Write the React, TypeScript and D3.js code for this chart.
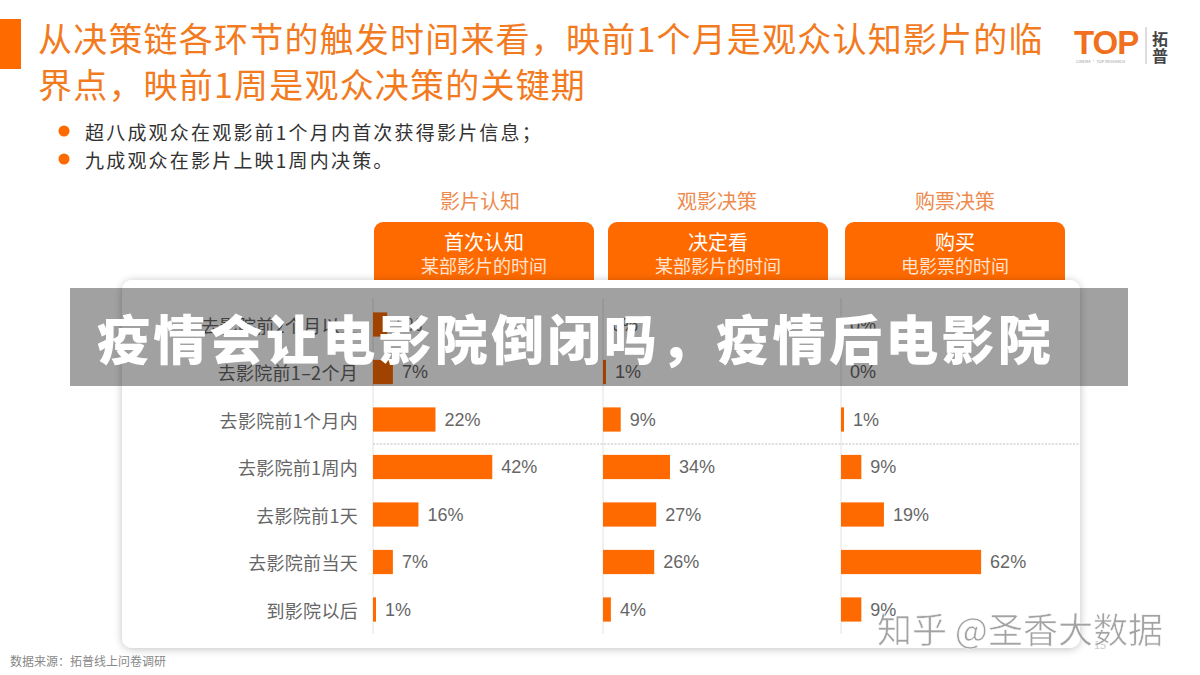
import React from "react";
import * as d3 from "d3";

const categories = ["去影院前2个月以上", "去影院前1–2个月", "去影院前1个月内", "去影院前1周内", "去影院前1天", "去影院前当天", "到影院以后"];
const awareness = [5, 7, 22, 42, 16, 7, 1];
const decision = [0, 1, 9, 34, 27, 26, 4];
const purchase = [0, 0, 1, 9, 19, 62, 9];
const stageTitles = ["影片认知", "观影决策", "购票决策"];
const boxTitles = ["首次认知", "决定看", "购买"];
const boxSubs = ["某部影片的时间", "某部影片的时间", "电影票的时间"];
const titleLines = ["从决策链各环节的触发时间来看，映前1个月是观众认知影片的临", "界点，映前1周是观众决策的关键期"];
const bullets = ["超八成观众在观影前1个月内首次获得影片信息；", "九成观众在影片上映1周内决策。"];
const overlayText = "疫情会让电影院倒闭吗，疫情后电影院";
const sourceText = "数据来源：拓普线上问卷调研";
const watermark = "知乎 @圣香大数据";

const FONT = "'Noto Sans CJK SC', 'Noto Sans', sans-serif";
const ORANGE = "#ff6a00";

export default function App() {
  const series = [awareness, decision, purchase];
  const axisX = [373, 603, 841];
  const pxPer100 = [284, 197, 226];
  const boxX = [374, 608, 845];
  const boxW = 220;
  const headerCx = [480, 717, 955];

  const y = d3
    .scaleBand<string>()
    .domain(categories)
    .range([300.75, 633.25])
    .paddingInner(0.49)
    .paddingOuter(0.245);

  const xScales = axisX.map((x0, i) => d3.scaleLinear().domain([0, 100]).range([x0, x0 + pxPer100[i]]));

  return (
    <div style={{ position: "fixed", left: 0, top: 0 }}>
      <svg width={1200} height={675} style={{ display: "block", background: "#fff" }} fontFamily={FONT}>
        <defs>
          <filter id="cardShadow" x="-5%" y="-5%" width="110%" height="115%">
            <feGaussianBlur in="SourceAlpha" stdDeviation="4" />
            <feOffset dx="0" dy="1" result="b" />
            <feComponentTransfer>
              <feFuncA type="linear" slope="0.25" />
            </feComponentTransfer>
            <feMerge>
              <feMergeNode />
              <feMergeNode in="SourceGraphic" />
            </feMerge>
          </filter>
        </defs>

        {/* title */}
        <rect x={0} y={19} width={21} height={50} fill={ORANGE} />
        {titleLines.map((t, i) => (
          <text key={i} x={38} y={37 + i * 46} fontSize={34} letterSpacing={1.2} fill="#f27b1f" dominantBaseline="central">
            {t}
          </text>
        ))}

        {/* logo */}
        <text x={1074} y={54} fontSize={33} fontWeight={900} fill="#f07020" fontFamily="'Liberation Sans', sans-serif" letterSpacing={-1}>
          TOP
        </text>
        <text x={1076} y={63} fontSize={4} fill="#999">CINEMA · TOP RESEARCH</text>
        <line x1={1146} x2={1146} y1={27} y2={64} stroke="#bbb" strokeWidth={1} />
        <text x={1160} y={38} fontSize={16} fontWeight={700} fill="#444" textAnchor="middle" dominantBaseline="central">拓</text>
        <text x={1160} y={55} fontSize={16} fontWeight={700} fill="#444" textAnchor="middle" dominantBaseline="central">普</text>

        {/* bullets */}
        {bullets.map((b, i) => (
          <g key={i}>
            <circle cx={64} cy={131 + i * 28} r={5.5} fill={ORANGE} />
            <text x={85} y={131 + i * 28} fontSize={19} letterSpacing={2.2} fill="#333" dominantBaseline="central">
              {b}
            </text>
          </g>
        ))}

        {/* stage headers and boxes */}
        {stageTitles.map((s, i) => (
          <g key={i}>
            <text x={headerCx[i]} y={200} fontSize={20} fill="#ee8a4e" textAnchor="middle" dominantBaseline="central">
              {s}
            </text>
            <rect x={boxX[i]} y={222} width={boxW} height={70} rx={9} fill={ORANGE} />
            <text x={boxX[i] + boxW / 2} y={241} fontSize={20} fill="#fff" textAnchor="middle" dominantBaseline="central">
              {boxTitles[i]}
            </text>
            <text x={boxX[i] + boxW / 2} y={265} fontSize={18} fill="#ffe2cf" textAnchor="middle" dominantBaseline="central">
              {boxSubs[i]}
            </text>
          </g>
        ))}

        {/* card */}
        <rect x={122} y={280} width={958} height={368} rx={10} fill="#fff" filter="url(#cardShadow)" />

        {/* axes */}
        {axisX.map((x, i) => (
          <line key={i} x1={x} x2={x} y1={298} y2={634} stroke="#e2e2e2" strokeWidth={1} />
        ))}
        <line x1={373} x2={1080} y1={444} y2={444} stroke="#bdbdbd" strokeWidth={1} strokeDasharray="2,1.5" />

        {/* category labels */}
        {categories.map((c) => (
          <text key={c} x={358} y={(y(c) as number) + y.bandwidth() / 2} fontSize={18} letterSpacing={0.3} fill="#666" textAnchor="end" dominantBaseline="central">
            {c}
          </text>
        ))}

        {/* bars */}
        {series.map((vals, si) => (
          <g key={si}>
            {vals.map((v, ri) => {
              const c = categories[ri];
              const x0 = xScales[si](0);
              const x1 = xScales[si](v);
              const w = x1 - x0;
              const drawnW = v > 0 ? Math.max(w, 3) : 0;
              const yc = (y(c) as number) + y.bandwidth() / 2;
              return (
                <g key={ri}>
                  {v > 0 && <rect x={x0} y={y(c) as number} width={drawnW} height={y.bandwidth()} fill={ORANGE} />}
                  <text x={x0 + drawnW + 9} y={yc} fontSize={18} fill="#666" dominantBaseline="central" fontFamily="'Liberation Sans', sans-serif">
                    {v}%
                  </text>
                </g>
              );
            })}
          </g>
        ))}

        {/* overlay band */}
        <rect x={70} y={288} width={1058} height={98} fill="#000" opacity={0.37} />
        <text x={97} y={337} fontSize={53} fontWeight={900} fill="#fff" letterSpacing={3.3} dominantBaseline="central">
          {overlayText}
        </text>

        {/* footer */}
        <text x={10} y={660} fontSize={12} fill="#888" dominantBaseline="central">
          {sourceText}
        </text>
        <text x={1094} y={644} fontSize={11} fill="#ccc" dominantBaseline="central">15</text>
        <text x={877} y={627} fontSize={35} fill="#9a9a9a" stroke="#fff" strokeWidth={0.6} dominantBaseline="central" opacity={0.9}>
          {watermark}
        </text>
      </svg>
    </div>
  );
}
